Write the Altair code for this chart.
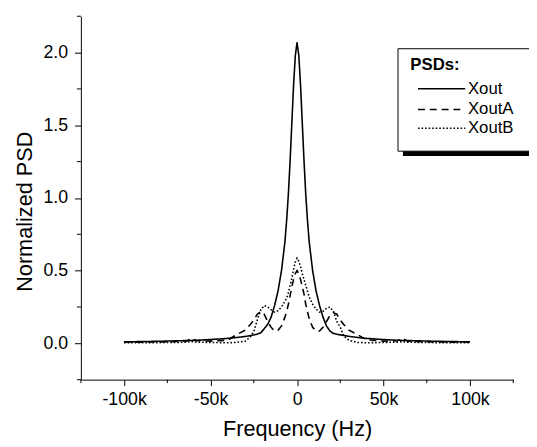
import altair as alt
import pandas as pd

# frequency in kHz
freq_khz = [-100, -90, -80, -70, -64, -61, -58, -50, -40, -35, -30, -27, -25, -23, -21, -19, -17, -15, -13, -11, -9, -7, -6, -5, -4, -3, -2, -1,
            0,
            1, 2, 3, 4, 5, 6, 7, 9, 11, 13, 15, 17, 19, 21, 23, 25, 27, 30, 35, 40, 50, 58, 61, 64, 70, 80, 90, 100]

xout = [0.010, 0.012, 0.014, 0.017, 0.019, 0.020, 0.021, 0.026, 0.034, 0.040, 0.047, 0.053, 0.058, 0.064, 0.072, 0.10, 0.13, 0.18, 0.26, 0.36, 0.50, 0.70, 0.85, 1.03, 1.26, 1.52, 1.78, 1.98,
        2.07,
        1.98, 1.78, 1.52, 1.26, 1.03, 0.85, 0.70, 0.50, 0.36, 0.26, 0.18, 0.12, 0.085, 0.068, 0.062, 0.058, 0.054, 0.048, 0.040, 0.034, 0.026, 0.021, 0.020, 0.019, 0.017, 0.014, 0.012, 0.010]

xoutA = [0.010, 0.008, 0.010, 0.012, 0.015, 0.035, 0.018, 0.015, 0.022, 0.06, 0.09, 0.13, 0.16, 0.20, 0.22, 0.20, 0.15, 0.11, 0.085, 0.09, 0.12, 0.18, 0.22, 0.27, 0.33, 0.39, 0.44, 0.48,
         0.50,
         0.48, 0.44, 0.39, 0.34, 0.27, 0.22, 0.17, 0.11, 0.085, 0.085, 0.11, 0.15, 0.19, 0.21, 0.20, 0.16, 0.13, 0.09, 0.06, 0.025, 0.015, 0.018, 0.035, 0.015, 0.012, 0.010, 0.008, 0.010]

xoutB = [0.005, 0.004, 0.005, 0.006, 0.008, 0.012, 0.008, 0.006, 0.004, 0.006, 0.015, 0.045, 0.08, 0.16, 0.23, 0.26, 0.25, 0.23, 0.215, 0.225, 0.25, 0.29, 0.31, 0.35, 0.40, 0.45, 0.51, 0.56,
         0.586,
         0.565, 0.53, 0.48, 0.44, 0.40, 0.36, 0.32, 0.27, 0.235, 0.215, 0.22, 0.24, 0.25, 0.22, 0.15, 0.11, 0.05, 0.02, 0.006, 0.004, 0.006, 0.008, 0.012, 0.008, 0.006, 0.005, 0.004, 0.005]

series_names = ["Xout", "XoutA", "XoutB"]
x_major = [-100000, -50000, 0, 50000, 100000]
x_minor = [-125000, -75000, -25000, 25000, 75000, 125000]
y_major = [0.0, 0.5, 1.0, 1.5, 2.0]
y_minor = [-0.25, 0.25, 0.75, 1.25, 1.75, 2.25]

rows = []
for name, vals in zip(series_names, [xout, xoutA, xoutB]):
    for f, v in zip(freq_khz, vals):
        rows.append({"freq": f * 1000, "psd": v, "series": name})
df = pd.DataFrame(rows)

W, H = 439, 369
FONT = "Liberation Sans"

x_axis = alt.Axis(values=x_major,
                  labelExpr="datum.value === 0 ? '0' : (datum.value < 0 ? '-' : '') + format(abs(datum.value) / 1000, 'd') + 'k'",
                  tickSize=6, labelPadding=5, labelFontSize=18, titleFontSize=22,
                  titlePadding=11, grid=False, labelOverlap=False, labelFlush=False,
                  domainColor="black", tickColor="black", labelColor="black", titleColor="black",
                  labelFont=FONT, titleFont=FONT, titleFontWeight="normal",
                  title="Frequency (Hz)")
y_axis = alt.Axis(values=y_major, format=".1f",
                  tickSize=6.5, labelPadding=7, labelFontSize=18, titleFontSize=22,
                  titlePadding=7, grid=False, labelOverlap=False, labelFlush=False,
                  domainColor="black", tickColor="black", labelColor="black", titleColor="black",
                  labelFont=FONT, titleFont=FONT, titleFontWeight="normal",
                  titleY=198, title="Normalized PSD")

xs = alt.Scale(domain=[-125000, 125000], nice=False, zero=False)
ys = alt.Scale(domain=[-0.25, 2.25], nice=False, zero=False)

lines = alt.Chart(df).mark_line(color="black", strokeWidth=1.6).encode(
    x=alt.X("freq:Q", scale=xs, axis=x_axis),
    y=alt.Y("psd:Q", scale=ys, axis=y_axis),
    strokeDash=alt.StrokeDash("series:N",
                              scale=alt.Scale(domain=series_names, range=[[1, 0], [7, 5], [1.6, 2]]),
                              legend=None),
)

xminor = alt.Chart(pd.DataFrame({"freq": x_minor})).mark_rule(color="black", strokeWidth=1).encode(
    x=alt.X("freq:Q", scale=xs, axis=x_axis),
    y=alt.value(H), y2=alt.value(H + 3.5),
)
yminor = alt.Chart(pd.DataFrame({"psd": y_minor})).mark_rule(color="black", strokeWidth=1).encode(
    y=alt.Y("psd:Q", scale=ys, axis=y_axis),
    x=alt.value(0), x2=alt.value(-4),
)

one = pd.DataFrame({"a": [0]})
shadow = alt.Chart(one).mark_rect(color="black").encode(
    x=alt.value(327), x2=alt.value(470), y=alt.value(38), y2=alt.value(142))
box = alt.Chart(one).mark_rect(fill="white", stroke="black", strokeWidth=1).encode(
    x=alt.value(322), x2=alt.value(465), y=alt.value(33), y2=alt.value(137))

leg_title = alt.Chart(one).mark_text(text="PSDs:", font=FONT, fontSize=17, fontWeight="bold",
                                     align="left", baseline="middle", color="black").encode(
    x=alt.value(334.5), y=alt.value(49.5))

legend_layers = []
for name, dash, yy in zip(series_names, [[1, 0], [7, 5], [1.6, 2]], [73.7, 94.7, 113.7]):
    legend_layers.append(alt.Chart(one).mark_rule(color="black", strokeWidth=1.6, strokeDash=dash).encode(
        x=alt.value(342.3), x2=alt.value(390.3), y=alt.value(yy)))
    legend_layers.append(alt.Chart(one).mark_text(text=name, font=FONT, fontSize=17, align="left",
                                                  baseline="middle", color="black").encode(
        x=alt.value(393), y=alt.value(yy)))

chart = alt.layer(lines, xminor, yminor, shadow, box, leg_title, *legend_layers).properties(
    width=W, height=H, autosize="none",
    padding={"left": 74, "top": 5, "right": 16, "bottom": 65},
    background="white",
).configure_view(strokeWidth=0)

chart.save("out.html", embed_options={"renderer": "svg", "actions": False})
